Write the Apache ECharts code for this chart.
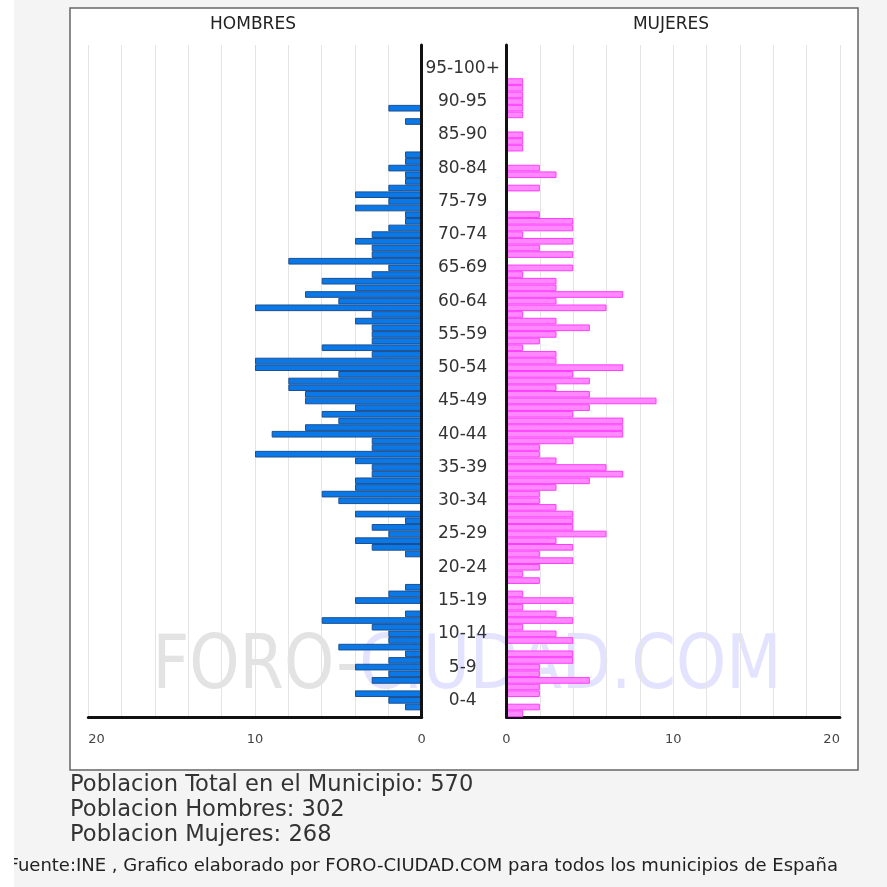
<!DOCTYPE html>
<html><head><meta charset="utf-8">
<script src="https://cdn.jsdelivr.net/npm/echarts@6/dist/echarts.min.js"></script>
<style>html,body{margin:0;padding:0;background:#fff}#c{width:887px;height:887px}</style>
</head><body><div id="c"></div>
<script>
// single-year ages, index 0 = age 0
const ages = ['0','1','2','3','4','5','6','7','8','9','10','11','12','13','14','15','16','17','18','19',
  '20','21','22','23','24','25','26','27','28','29','30','31','32','33','34','35','36','37','38','39',
  '40','41','42','43','44','45','46','47','48','49','50','51','52','53','54','55','56','57','58','59',
  '60','61','62','63','64','65','66','67','68','69','70','71','72','73','74','75','76','77','78','79',
  '80','81','82','83','84','85','86','87','88','89','90','91','92','93','94','95','96','97','98','99','100'];
const hombres = [0,1,2,4,0,3,2,4,2,1, 5,2,2,3,6,1,0,4,2,1, 0,0,0,0,1,3,4,2,3,1, 4,0,5,6,4,4,3,3,4,10,
  3,3,9,7,5,6,4,7,7,8, 8,5,10,10,3,6,3,3,3,4, 3,10,5,7,4,6,3,2,8,3, 3,4,3,2,1,1,4,2,4,2,
  1,1,2,1,1,0,0,0,0,1, 0,2,0,0,0,0,0,0,0,0,0];
const mujeres = [1,2,0,2,2,5,2,2,4,4, 0,4,3,1,4,3,1,4,1,0, 2,1,2,4,2,4,3,6,4,4, 4,3,2,2,3,5,7,6,3,2,
  2,4,7,7,7,4,5,9,5,3, 5,4,7,3,3,1,2,3,5,3, 1,6,3,7,3,3,1,4,0,4, 2,4,1,4,4,2,0,0,0,2,
  0,3,2,0,0,1,1,1,0,0, 1,1,1,1,1,1,0,0,0,0,0];
const grupos = ['0-4','5-9','10-14','15-19','20-24','25-29','30-34','35-39','40-44','45-49',
  '50-54','55-59','60-64','65-69','70-74','75-79','80-84','85-90','90-95','95-100+'];
const xTicks = [0, 10, 20];
const totales = {total: 570, hombres: 302, mujeres: 268};

const FONT = 'DejaVu Sans';
const chart = echarts.init(document.getElementById('c'), null, {renderer: 'canvas'});

function xAxisCfg(grid, inverse, alignMax) {
  return {
    gridIndex: grid, type: 'value', min: 0, max: 20, interval: 2, inverse: inverse,
    axisLine: {show: true, onZero: false, lineStyle: {color: '#111', width: 3}},
    axisTick: {show: false},
    splitLine: {show: true, lineStyle: {color: '#e4e4e4', width: 1}},
    axisLabel: {
      margin: 16, color: '#444', fontFamily: FONT, fontSize: 13,
      alignMaxLabel: alignMax,
      formatter: v => (xTicks.indexOf(v) >= 0 ? String(v) : '')
    }
  };
}
function lineOnlyY(grid, pos) {
  return {gridIndex: grid, type: 'category', data: ages, position: pos, z: 10,
    axisLine: {show: true, onZero: false, lineStyle: {color: '#111', width: 3}},
    axisTick: {show: false}, splitLine: {show: false}, axisLabel: {show: false}};
}

chart.setOption({
  backgroundColor: '#f4f4f4',
  animation: false,
  grid: [
    {left: 88.3, top: 45, width: 333.4, height: 672, containLabel: false},
    {left: 506.5, top: 45, width: 333.4, height: 672, containLabel: false}
  ],
  xAxis: [xAxisCfg(0, true, 'left'), xAxisCfg(1, false, 'right')],
  yAxis: [
    {gridIndex: 0, type: 'category', data: ages, position: 'right', z: 10,
      axisLine: {show: false}, axisTick: {show: false}, splitLine: {show: false},
      axisLabel: {interval: 0, margin: 41, align: 'center', color: '#333', fontFamily: FONT, fontSize: 17,
        formatter: (v, i) => (i % 5 === 2 ? grupos[(i - 2) / 5] : '')}},
    {gridIndex: 1, type: 'category', data: ages, position: 'left',
      axisLine: {show: false}, axisTick: {show: false}, splitLine: {show: false}, axisLabel: {show: false}},
    lineOnlyY(0, 'right'),
    lineOnlyY(1, 'left')
  ],
  graphic: [
    {type: 'rect', z: -10, shape: {x: 70, y: 8, width: 788, height: 762},
      style: {fill: '#fff', stroke: '#666', lineWidth: 1.5}, silent: true},
    {type: 'text', z: -5, x: 467, y: 668, scaleY: 1.18, originX: 0, originY: 0,
      style: {text: '{a|FORO-}{b|CIUDAD.COM}', align: 'center', verticalAlign: 'middle',
        rich: {a: {fill: '#e3e3e3', fontSize: 64, fontFamily: FONT},
               b: {fill: '#e3e3ff', fontSize: 64, fontFamily: FONT}}}, silent: true},
    {type: 'text', z: 10, x: 253, y: 25, style: {text: 'HOMBRES', align: 'center', verticalAlign: 'middle',
      fill: '#222', fontSize: 17, fontFamily: FONT}},
    {type: 'text', z: 10, x: 671, y: 25, style: {text: 'MUJERES', align: 'center', verticalAlign: 'middle',
      fill: '#222', fontSize: 17, fontFamily: FONT}},
    {type: 'text', z: 10, x: 70, y: 785, style: {text: 'Poblacion Total en el Municipio: ' + totales.total,
      verticalAlign: 'middle', fill: '#333', fontSize: 22.6, fontFamily: FONT}},
    {type: 'text', z: 10, x: 70, y: 810, style: {text: 'Poblacion Hombres: ' + totales.hombres,
      verticalAlign: 'middle', fill: '#333', fontSize: 22.6, fontFamily: FONT}},
    {type: 'text', z: 10, x: 70, y: 835, style: {text: 'Poblacion Mujeres: ' + totales.mujeres,
      verticalAlign: 'middle', fill: '#333', fontSize: 22.6, fontFamily: FONT}},
    {type: 'text', z: 10, x: 838, y: 866, style: {text: 'Fuente:INE , Grafico elaborado por FORO-CIUDAD.COM para todos los municipios de España',
      align: 'right', verticalAlign: 'middle', fill: '#222', fontSize: 18, fontFamily: FONT}},
    {type: 'rect', z: 20, shape: {x: 0, y: 0, width: 14, height: 887}, style: {fill: '#fff'}, silent: true}
  ],
  series: [
    {name: 'Hombres', type: 'bar', xAxisIndex: 0, yAxisIndex: 0, data: hombres, barWidth: '100%', z: 2,
      itemStyle: {color: '#0a78e6', borderColor: '#1d4f8f', borderWidth: 1}},
    {name: 'Mujeres', type: 'bar', xAxisIndex: 1, yAxisIndex: 1, data: mujeres, barWidth: '100%', z: 2,
      itemStyle: {color: '#ff88ff', borderColor: '#ff3cff', borderWidth: 1}}
  ]
});
</script></body></html>
